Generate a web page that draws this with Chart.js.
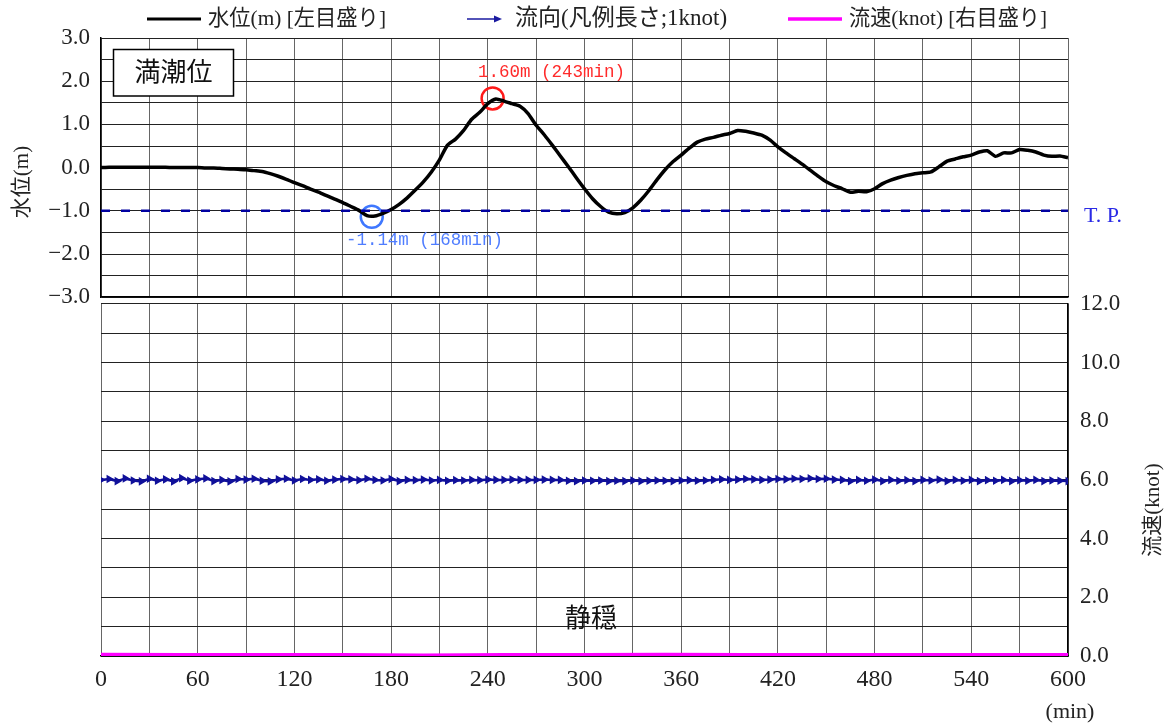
<!DOCTYPE html>
<html>
<head>
<meta charset="utf-8">
<script src="https://cdn.jsdelivr.net/npm/chart.js@4"></script>
<style>
  body { margin: 0; background: #fff; }
  #wrap { position: relative; width: 1172px; height: 727px; }
  canvas { position: absolute; left: 0; }
  #topChart { top: 0; }
  #bottomChart { top: 278px; }
</style>
</head>
<body>
<div id="wrap">
  <canvas id="topChart" width="1172" height="322"></canvas>
  <canvas id="bottomChart" width="1172" height="449"></canvas>
</div>
<script>
'use strict';

// time (min), every 5 minutes
const minutes = [
  0, 5, 10, 15, 20, 25, 30, 35, 40, 45, 50, 55, 60, 65, 70, 75, 80, 85, 90, 95,
  100, 105, 110, 115, 120, 125, 130, 135, 140, 145, 150, 155, 160, 165, 170, 175, 180, 185, 190, 195,
  200, 205, 210, 215, 220, 225, 230, 235, 240, 245, 250, 255, 260, 265, 270, 275, 280, 285, 290, 295,
  300, 305, 310, 315, 320, 325, 330, 335, 340, 345, 350, 355, 360, 365, 370, 375, 380, 385, 390, 395,
  400, 405, 410, 415, 420, 425, 430, 435, 440, 445, 450, 455, 460, 465, 470, 475, 480, 485, 490, 495,
  500, 505, 510, 515, 520, 525, 530, 535, 540, 545, 550, 555, 560, 565, 570, 575, 580, 585, 590, 595,
  600
];

// water level (m)
const waterLevel = [
  0.00, 0.01, 0.01, 0.01, 0.01, 0.01, 0.01, 0.01, 0.01, 0.00, 0.00, 0.00, 0.00, -0.01, -0.01, -0.02, -0.03, -0.04, -0.05, -0.07,
  -0.09, -0.14, -0.20, -0.27, -0.35, -0.42, -0.50, -0.57, -0.65, -0.73, -0.81, -0.90, -0.99, -1.11, -1.12, -1.06, -0.97, -0.85, -0.70, -0.52,
  -0.33, -0.10, 0.18, 0.52, 0.66, 0.86, 1.12, 1.28, 1.48, 1.59, 1.54, 1.48, 1.42, 1.25, 0.98, 0.76, 0.52, 0.27, 0.02, -0.24,
  -0.49, -0.72, -0.90, -1.03, -1.07, -1.04, -0.93, -0.75, -0.53, -0.28, -0.05, 0.14, 0.29, 0.45, 0.59, 0.66, 0.70, 0.75, 0.79, 0.86,
  0.84, 0.80, 0.75, 0.64, 0.48, 0.34, 0.21, 0.08, -0.06, -0.20, -0.33, -0.42, -0.49, -0.57, -0.55, -0.56, -0.49, -0.37, -0.29, -0.23,
  -0.18, -0.14, -0.12, -0.10, 0.02, 0.15, 0.20, 0.25, 0.29, 0.36, 0.39, 0.26, 0.34, 0.34, 0.42, 0.40, 0.36, 0.29, 0.26, 0.27,
  0.23
];

// flow direction markers (drawn around 6.0 on the right scale)
const flowDir = [
  6.00, 6.03, 5.96, 6.05, 5.98, 5.95, 6.04, 5.97, 6.02, 5.95, 6.06,
  5.97, 6.02, 6.05, 5.96, 6.00, 5.95, 6.03, 6.01, 6.04, 5.97,
  5.95, 6.02, 6.04, 5.98, 6.03, 6.00, 6.02, 5.97, 6.01, 6.03,
  6.02, 5.99, 6.04, 6.00, 5.98, 6.03, 5.96, 6.00, 5.99, 6.01,
  5.98, 6.00, 5.97, 5.99, 5.98, 6.00, 5.99, 6.01, 6.00, 6.00,
  6.01, 6.00, 6.00, 6.00, 6.01, 6.00, 6.00, 5.97, 5.96, 5.98,
  5.97, 5.98, 5.96, 5.97, 5.96, 5.98, 5.96, 5.97, 5.98, 5.97,
  5.96, 5.98, 5.99, 5.97, 5.98, 6.00, 6.02, 6.00, 6.01, 6.03,
  6.02, 6.00, 6.01, 6.03, 6.02, 6.04, 6.03, 6.05, 6.03, 6.04,
  6.01, 6.00, 5.96, 6.00, 5.97, 6.01, 5.96, 6.00, 5.97, 5.99,
  5.96, 6.00, 5.98, 6.01, 5.96, 6.00, 5.97, 6.00, 5.96, 5.99,
  5.97, 6.00, 5.96, 5.99, 5.97, 6.00, 5.96, 5.98, 5.97, 5.96
];

// flow speed (knot)
const speedMinutes = [0, 50, 100, 150, 200, 250, 300, 350, 400, 450, 500, 550, 600];
const flowSpeed = [0.04, 0.03, 0.03, 0.03, 0.02, 0.03, 0.03, 0.04, 0.03, 0.03, 0.03, 0.03, 0.03];

// reference level and peaks
const tpLevel = -1.0;
const maxPoint = { t: 243, level: 1.60 };
const minPoint = { t: 168, level: -1.14 };

const serif = "'Liberation Serif', 'Noto Sans CJK JP', serif";
const mono = "'Liberation Mono', monospace";

function toXY(xs, ys) {
  return xs.map((x, i) => ({ x: x, y: ys[i] }));
}

function fmtTick(v) {
  const s = Math.abs(v).toFixed(1);
  return v < 0 ? '\u2212' + s : s;
}

// text and legend of the upper panel
const topTexts = {
  id: 'topTexts',
  afterDraw(chart) {
    const c = chart.ctx;
    c.save();
    c.textBaseline = 'middle';

    // legend
    c.strokeStyle = '#000';
    c.lineWidth = 3;
    c.beginPath(); c.moveTo(147, 19); c.lineTo(201, 19); c.stroke();
    c.fillStyle = '#222';
    c.font = '22px ' + serif;
    c.fillText('水位(m) [左目盛り]', 208, 19, 178);

    c.strokeStyle = '#1a1aa0';
    c.lineWidth = 1.5;
    c.beginPath(); c.moveTo(467, 19); c.lineTo(496, 19); c.stroke();
    c.fillStyle = '#1a1aa0';
    c.beginPath(); c.moveTo(502, 19); c.lineTo(494, 15.5); c.lineTo(494, 22.5); c.closePath(); c.fill();
    c.fillStyle = '#222';
    c.font = '23px ' + serif;
    c.fillText('流向(凡例長さ;1knot)', 515, 19, 214);

    c.strokeStyle = '#ff00ff';
    c.lineWidth = 3.5;
    c.beginPath(); c.moveTo(788, 19); c.lineTo(842, 19); c.stroke();
    c.fillStyle = '#222';
    c.font = '22px ' + serif;
    c.fillText('流速(knot) [右目盛り]', 849, 19, 198);

    // box label
    c.fillStyle = '#fff';
    c.fillRect(113.5, 49.5, 120, 46.5);
    c.strokeStyle = '#000';
    c.lineWidth = 1.5;
    c.strokeRect(113.5, 49.5, 120, 46.5);
    c.fillStyle = '#111';
    c.font = '26px ' + serif;
    c.textAlign = 'center';
    c.fillText('満潮位', 173.5, 74);

    // left axis title
    c.save();
    c.translate(22, 182);
    c.rotate(-Math.PI / 2);
    c.font = '21px ' + serif;
    c.fillStyle = '#222';
    c.fillText('水位(m)', 0, 0, 78);
    c.restore();

    // peak labels
    c.textAlign = 'left';
    c.font = '19px ' + mono;
    c.fillStyle = '#ff2a2a';
    c.fillText('1.60m (243min)', 478, 72, 147);
    c.fillStyle = '#4f7dff';
    c.fillText('-1.14m (168min)', 346, 240, 157);

    c.font = '22px ' + serif;
    c.fillStyle = '#2a2ae6';
    c.fillText('T. P.', 1084, 216, 42);
    c.restore();
  }
};

// text of the lower panel
const bottomTexts = {
  id: 'bottomTexts',
  afterDraw(chart) {
    const c = chart.ctx;
    const top = 278;
    c.save();
    c.textBaseline = 'middle';
    c.textAlign = 'center';
    c.fillStyle = '#111';
    c.font = '26px ' + serif;
    c.fillText('静穏', 591, 620 - top);

    c.font = '22px ' + serif;
    c.fillStyle = '#222';
    c.fillText('(min)', 1070, 712 - top);

    c.save();
    c.translate(1153, 510 - top);
    c.rotate(-Math.PI / 2);
    c.font = '21px ' + serif;
    c.fillText('流速(knot)', 0, 0, 112);
    c.restore();
    c.restore();
  }
};

const topChart = new Chart(document.getElementById('topChart'), {
  type: 'line',
  data: {
    datasets: [
      {
        label: 'T.P.',
        data: [{ x: 0, y: tpLevel }, { x: 600, y: tpLevel }],
        borderColor: '#0000a0',
        borderWidth: 2.5,
        borderDash: [9, 11],
        pointRadius: 0
      },
      {
        label: '水位',
        data: toXY(minutes, waterLevel),
        borderColor: '#000',
        borderWidth: 3.5,
        pointRadius: 0,
        tension: 0.2
      },
      {
        type: 'scatter',
        label: 'max',
        data: [{ x: maxPoint.t, y: maxPoint.level }],
        pointRadius: 11,
        borderColor: '#ff1a1a',
        borderWidth: 2.5,
        backgroundColor: 'rgba(0,0,0,0)'
      },
      {
        type: 'scatter',
        label: 'min',
        data: [{ x: minPoint.t, y: minPoint.level }],
        pointRadius: 11,
        borderColor: '#3f78ff',
        borderWidth: 2.5,
        backgroundColor: 'rgba(0,0,0,0)'
      }
    ]
  },
  options: {
    responsive: false,
    animation: false,
    layout: { padding: { left: 0, right: 104, top: 38, bottom: 14 } },
    plugins: { legend: { display: false }, tooltip: { enabled: false } },
    scales: {
      x: {
        type: 'linear',
        min: 0,
        max: 600,
        ticks: { display: false, stepSize: 30, autoSkip: false },
        grid: { color: '#666', drawTicks: false },
        border: { color: '#000', width: 1.5 },
        afterFit(s) { s.height = 0; }
      },
      y: {
        min: -3,
        max: 3,
        ticks: {
          stepSize: 0.5,
          autoSkip: false,
          padding: 11,
          color: '#222',
          font: { family: serif, size: 23 },
          callback: (v) => (Number.isInteger(v) ? fmtTick(v) : '')
        },
        grid: { color: '#222', drawTicks: false },
        border: { color: '#000', width: 1.5 },
        afterFit(s) { s.width = 101; }
      }
    }
  },
  plugins: [topTexts]
});

const bottomChart = new Chart(document.getElementById('bottomChart'), {
  type: 'line',
  data: {
    datasets: [
      {
        label: '流向',
        data: toXY(minutes, flowDir),
        borderColor: '#10109a',
        backgroundColor: '#10109a',
        borderWidth: 2.5,
        pointStyle: 'triangle',
        pointRadius: 2.5,
        rotation: 90,
        yAxisID: 'y'
      },
      {
        label: '流速',
        data: toXY(speedMinutes, flowSpeed),
        borderColor: '#ff00ff',
        borderWidth: 4,
        pointRadius: 0,
        yAxisID: 'y'
      }
    ]
  },
  options: {
    responsive: false,
    animation: false,
    layout: { padding: { left: 101, right: 0, top: 18, bottom: 0 } },
    plugins: { legend: { display: false }, tooltip: { enabled: false } },
    scales: {
      x: {
        type: 'linear',
        min: 0,
        max: 600,
        ticks: {
          stepSize: 30,
          padding: 9,
          color: '#222',
          font: { family: serif, size: 24 },
          maxRotation: 0,
          autoSkip: false,
          callback: (v) => (v % 60 === 0 ? String(v) : '')
        },
        grid: { color: '#666', drawTicks: false },
        border: { color: '#000', width: 1.5 },
        afterFit(s) { s.height = 71; }
      },
      y: {
        position: 'right',
        min: 0,
        max: 12,
        ticks: {
          stepSize: 1,
          autoSkip: false,
          padding: 12,
          color: '#222',
          font: { family: serif, size: 23 },
          callback: (v) => (v % 2 === 0 ? v.toFixed(1) : '')
        },
        grid: { color: '#222', drawTicks: false },
        border: { color: '#000', width: 1.5 },
        afterFit(s) { s.width = 104; }
      }
    }
  },
  plugins: [bottomTexts]
});
</script>
</body>
</html>
